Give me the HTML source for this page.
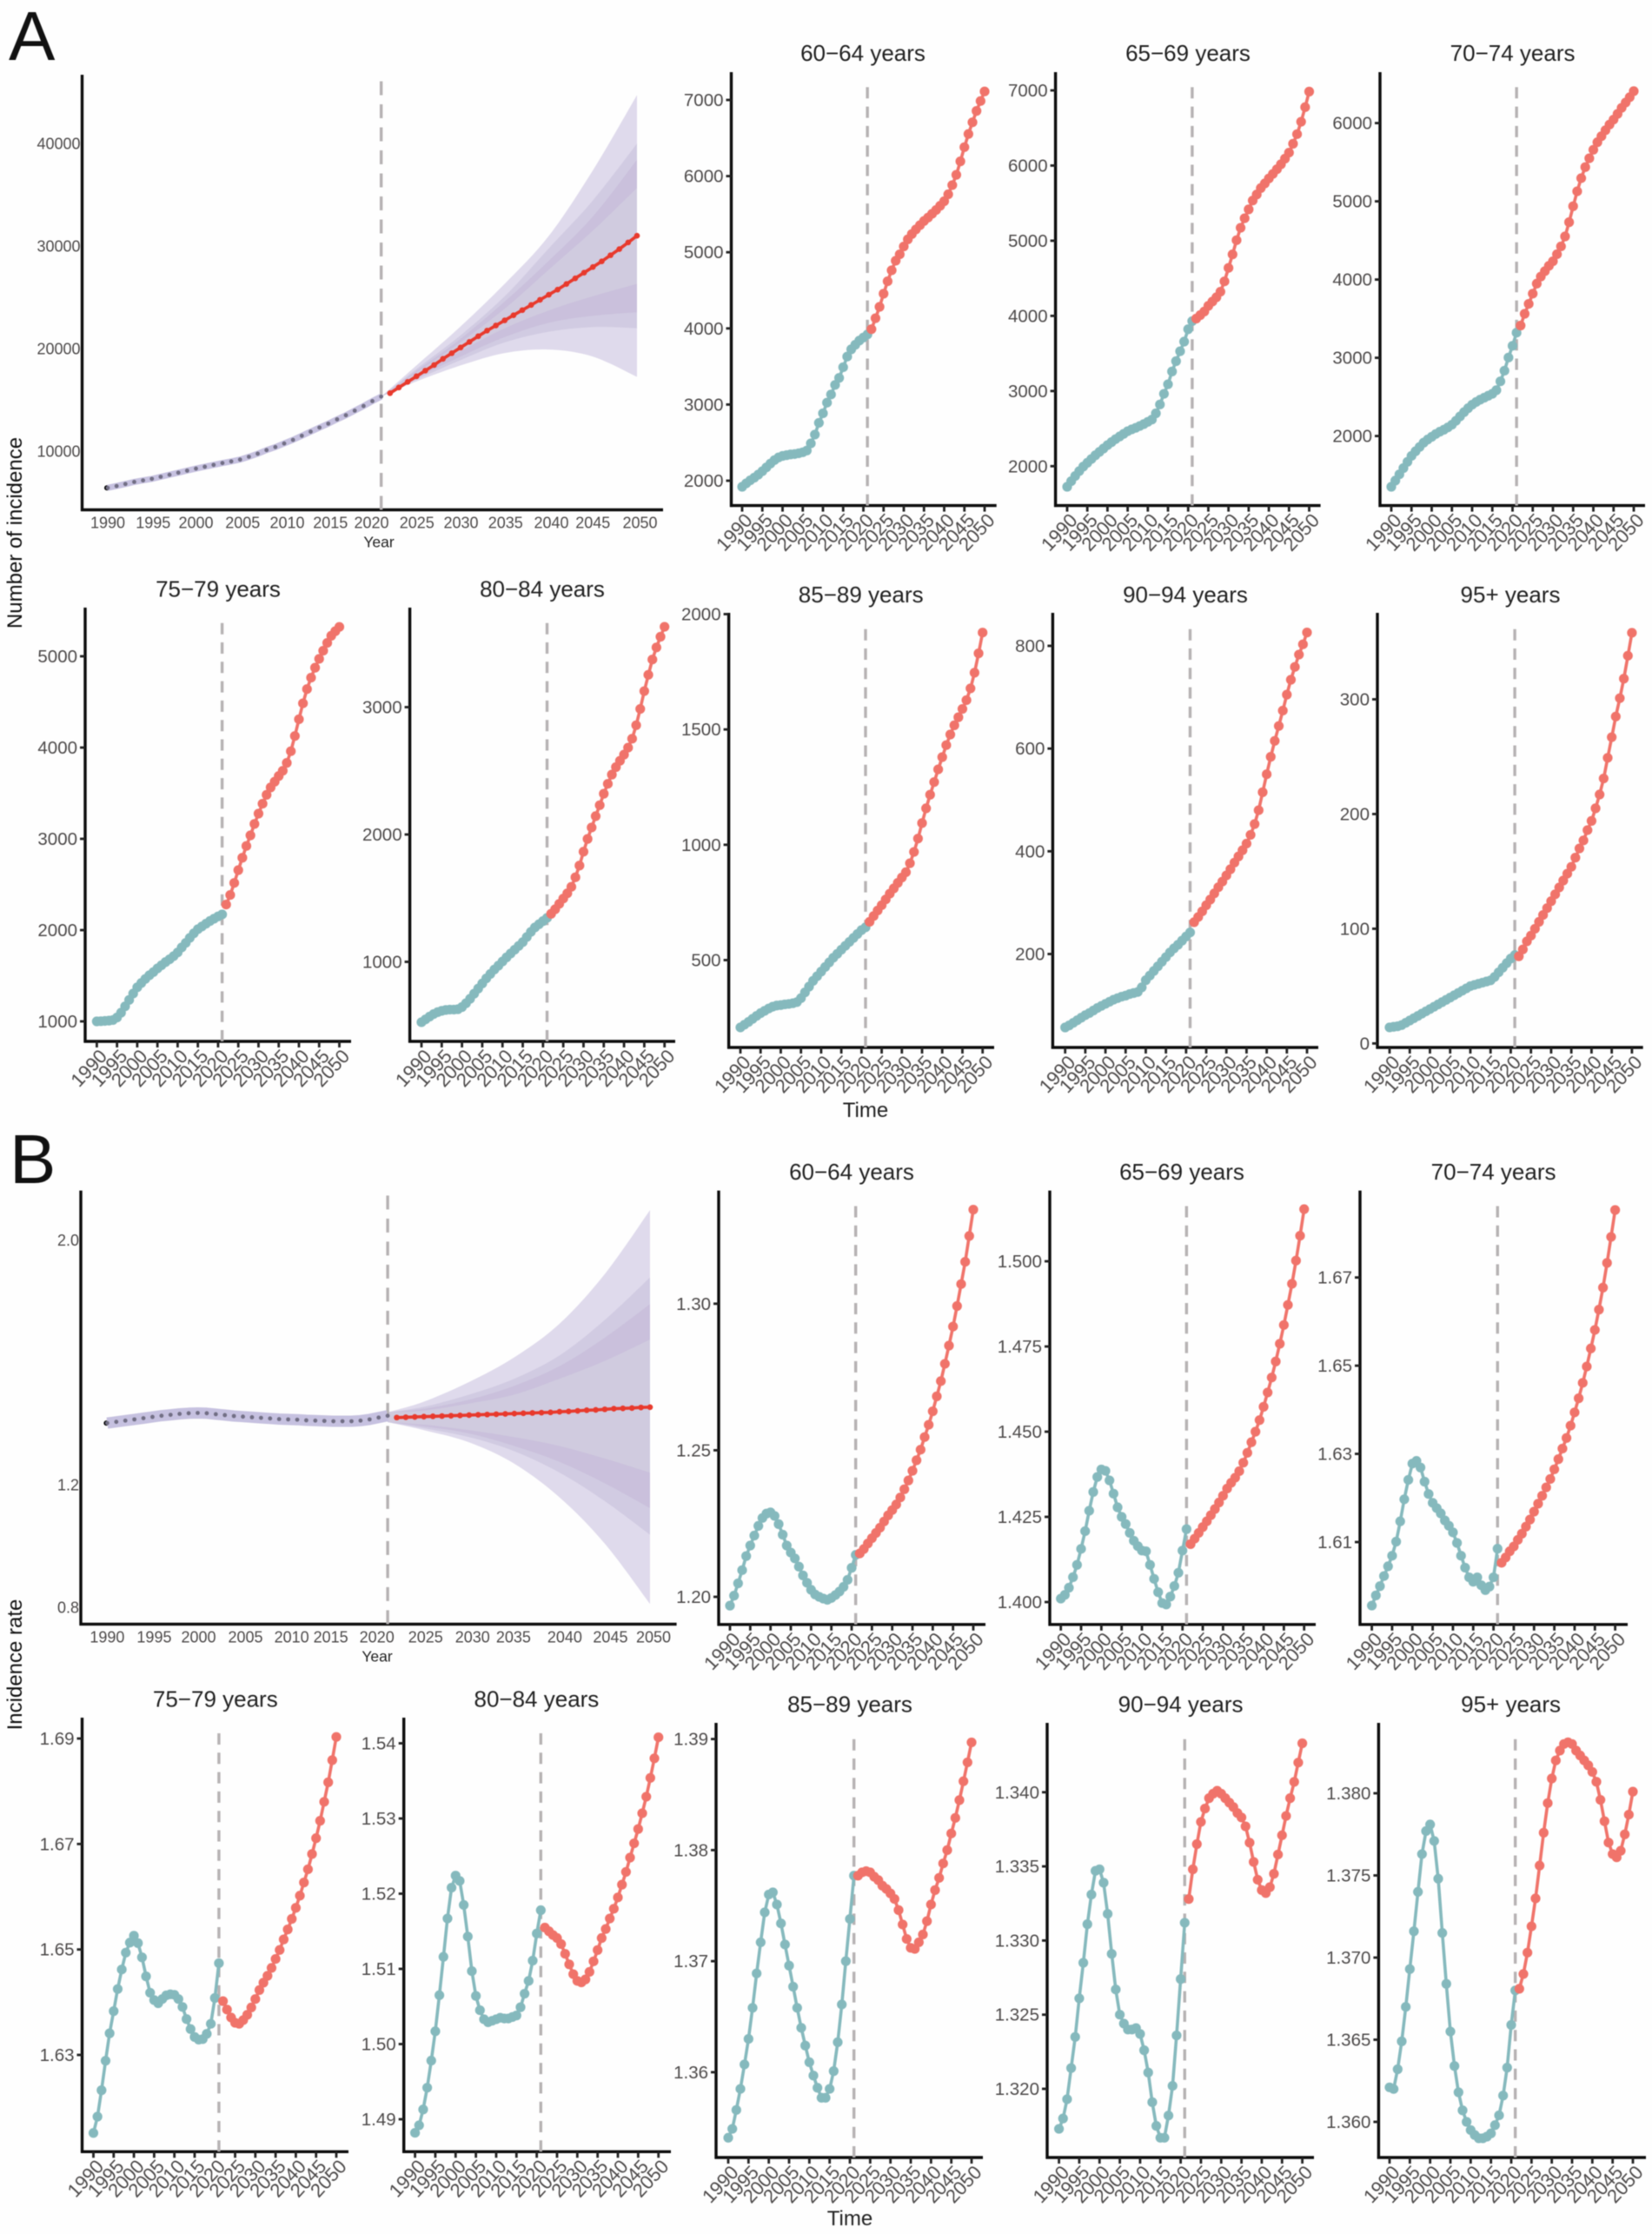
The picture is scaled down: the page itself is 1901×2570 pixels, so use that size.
<!DOCTYPE html>
<html lang="en">
<head>
<meta charset="utf-8">
<title>Incidence projections by age group</title>
<style>
html,body{margin:0;padding:0;background:#fefefe;}
#figure{display:block;width:1901px;height:2570px;font-family:"Liberation Sans",Arial,sans-serif;filter:blur(0.6px);}
</style>
</head>
<body>
<svg id="figure" xmlns="http://www.w3.org/2000/svg" width="1901" height="2570" viewBox="0 0 1901 2570">
<rect x="0" y="0" width="1901" height="2570" fill="#fefefe"/>
<text x="10" y="69" font-size="80" fill="#111">A</text>
<text x="11" y="1361" font-size="80" fill="#111">B</text>
<text transform="translate(25,613) rotate(-90)" text-anchor="middle" font-size="24" fill="#111">Number of incidence</text>
<text transform="translate(25,1915) rotate(-90)" text-anchor="middle" font-size="24" fill="#111">Incidence rate</text>
<text x="996" y="1285" text-anchor="middle" font-size="24" fill="#222">Time</text>
<text x="978" y="2560" text-anchor="middle" font-size="24" fill="#222">Time</text>
</svg>
<script>
// ---------- shared axis data ----------
const tickYears = [1990,1995,2000,2005,2010,2015,2020,2025,2030,2035,2040,2045,2050];
const bandYears = [2021,2025,2030,2035,2040,2045,2050];

// ---------- Panel A, all ages: number of incidence ----------
const mainAHist = [6420,6600,6800,7000,7150,7300,7500,7700,7900,8100,8300,8480,8660,8840,9000,9180,9450,9750,10100,10400,10750,11100,11500,11900,12300,12680,13100,13500,13950,14400,14880,15320];
const mainAProj = [15650,16200,16750,17300,17850,18400,19000,19550,20100,20650,21200,21750,22250,22750,23250,23750,24250,24750,25250,25750,26300,26850,27400,27950,28500,29100,29700,30350,31000];
const mainATicks = [10000,20000,30000,40000];
const mainAOuterHi = [15311,18355,22160,26311,30980,37380,44713];
const mainAOuterLo = [15311,16798,18355,19565,19911,19219,17248];
const mainASecondHi = [15311,18010,21296,25100,29770,34440,39974];
const mainASecondLo = [15311,16972,18874,20603,21641,22091,21987];
const mainAThirdHi = [15311,17836,20949,24581,28559,32883,38417];
const mainAThirdLo = [15311,17145,19220,21122,22507,23198,23544];
const mainACoreHi = [15311,17664,20604,23890,27694,31499,35650];
const mainACoreLo = [15311,17318,19739,21987,23716,25100,26311];

// ---------- Panel B, all ages: incidence rate ----------
const mainBHist = [1.402,1.406,1.410,1.414,1.418,1.422,1.426,1.429,1.432,1.434,1.435,1.434,1.431,1.428,1.425,1.423,1.421,1.419,1.417,1.415,1.414,1.413,1.411,1.410,1.409,1.408,1.408,1.408,1.410,1.414,1.420,1.426];
const mainBProj = [1.420,1.421,1.422,1.423,1.424,1.425,1.426,1.427,1.428,1.429,1.430,1.431,1.432,1.433,1.434,1.435,1.436,1.437,1.439,1.440,1.442,1.444,1.445,1.447,1.449,1.450,1.451,1.453,1.454];
const mainBTicks = [0.8,1.2,2.0];
const mainBOuterHi = [1.437,1.472,1.536,1.617,1.727,1.889,2.098];
const mainBOuterLo = [1.405,1.379,1.339,1.269,1.159,1.008,0.811];
const mainBSecondHi = [1.437,1.455,1.495,1.547,1.623,1.739,1.878];
const mainBSecondLo = [1.405,1.385,1.356,1.310,1.240,1.147,1.037];
const mainBThirdHi = [1.437,1.449,1.478,1.524,1.588,1.681,1.791];
const mainBThirdLo = [1.405,1.391,1.368,1.327,1.275,1.205,1.124];
const mainBCoreHi = [1.437,1.443,1.466,1.495,1.547,1.605,1.675];
const mainBCoreLo = [1.405,1.397,1.379,1.356,1.327,1.286,1.240];

// ---------- Panel A, age groups ----------
const a6064Hist = [1920,1965,2005,2040,2080,2125,2175,2225,2270,2305,2325,2335,2345,2350,2360,2373,2396,2490,2606,2760,2885,3025,3132,3258,3350,3490,3630,3725,3785,3840,3880,3920];
const a6064Proj = [3990,4134,4283,4456,4619,4763,4889,4973,5076,5169,5239,5300,5355,5410,5455,5505,5555,5610,5670,5761,5882,6017,6194,6380,6553,6707,6856,6986,7112];
const a6064Ticks = [2000,3000,4000,5000,6000,7000];
const a6569Hist = [1726,1800,1870,1935,1995,2045,2095,2145,2190,2235,2280,2320,2360,2395,2430,2465,2490,2510,2535,2560,2590,2620,2703,2821,2963,3090,3260,3397,3529,3657,3822,3930];
const a6569Proj = [3964,4010,4058,4133,4190,4247,4322,4459,4638,4818,5007,5172,5299,5417,5535,5615,5700,5762,5828,5889,5951,6017,6092,6172,6290,6418,6583,6777,6984];
const a6569Ticks = [2000,3000,4000,5000,6000,7000];
const a7074Hist = [1351,1430,1510,1590,1670,1746,1805,1860,1915,1955,1990,2025,2055,2080,2110,2145,2195,2250,2305,2355,2400,2435,2465,2490,2515,2540,2586,2699,2835,3003,3153,3321];
const a7074Proj = [3412,3562,3689,3820,3948,4038,4107,4175,4234,4324,4424,4551,4733,4937,5128,5296,5437,5550,5659,5755,5832,5909,5981,6045,6118,6195,6263,6331,6408];
const a7074Ticks = [2000,3000,4000,5000,6000];
const a7579Hist = [1000,1002,1005,1008,1015,1043,1095,1165,1235,1305,1373,1420,1465,1505,1540,1580,1615,1650,1680,1715,1755,1810,1860,1915,1965,2010,2040,2070,2100,2125,2150,2172];
const a7579Proj = [2280,2385,2517,2657,2793,2922,3038,3163,3276,3385,3482,3563,3626,3688,3746,3832,3960,4127,4310,4485,4641,4766,4875,4972,5061,5147,5225,5275,5322];
const a7579Ticks = [1000,2000,3000,4000,5000];
const a8084Hist = [526,548,570,590,605,615,622,625,625,628,645,675,710,750,790,830,870,905,940,970,1003,1035,1065,1095,1125,1155,1195,1235,1270,1295,1320,1345];
const a8084Proj = [1377,1413,1455,1497,1538,1589,1664,1756,1865,1965,2055,2144,2230,2320,2398,2470,2529,2579,2627,2682,2752,2858,2986,3126,3254,3374,3469,3553,3631];
const a8084Ticks = [1000,2000,3000];
const a8589Hist = [208,220,232,245,258,270,280,290,298,303,305,308,310,313,318,335,360,385,410,430,450,470,490,510,527,545,562,579,596,613,630,642];
const a8589Proj = [666,691,715,738,763,788,811,835,858,881,920,969,1027,1094,1158,1217,1272,1327,1380,1432,1478,1518,1553,1589,1627,1678,1746,1830,1920];
const a8589Ticks = [500,1000,1500,2000];
const a9094Hist = [57,61,66,71,76,81,85,90,95,99,103,107,111,114,117,119,122,124,126,135,149,158,167,176,185,194,203,211,218,226,234,242];
const a9094Proj = [262,272,283,295,306,318,330,341,353,365,378,390,402,415,432,453,480,515,550,584,615,644,674,705,734,759,783,803,826];
const a9094Ticks = [200,400,600,800];
const a95Hist = [14,14.5,15,16,18,20,22,24,26,28,30,32,34,36,38,40,42,44,46,48,50,51,52,53,54,55,58,62,66,70,74,77];
const a95Proj = [76,82,89,94,100,106,112,118,124,130,136,142,148,154,162,170,177,186,194,205,217,231,249,267,285,301,318,338,358];
const a95Ticks = [0,100,200,300];

// ---------- Panel B, age groups ----------
const b6064Hist = [1.197,1.2004,1.2046,1.2091,1.2139,1.2175,1.2209,1.2242,1.2269,1.2284,1.2288,1.2276,1.2248,1.2212,1.2175,1.2151,1.2131,1.2103,1.2073,1.2048,1.2024,1.2008,1.2000,1.1994,1.199,1.1996,1.2006,1.2018,1.2034,1.2058,1.2099,1.2143];
const b6064Proj = [1.2148,1.2163,1.2182,1.22,1.2218,1.2236,1.2257,1.2278,1.2296,1.2315,1.2339,1.2367,1.2397,1.243,1.2466,1.2502,1.2545,1.2587,1.2633,1.2684,1.2736,1.2795,1.2857,1.2922,1.2992,1.3067,1.3143,1.3231,1.3321];
const b6064Ticks = [1.20,1.25,1.30];
const b6569Hist = [1.401,1.4021,1.4042,1.4073,1.4109,1.4156,1.4208,1.4268,1.4323,1.4367,1.4389,1.4385,1.4357,1.4318,1.4278,1.425,1.4229,1.4203,1.418,1.4164,1.4151,1.4149,1.4109,1.4068,1.4029,1.3997,1.3993,1.4016,1.4047,1.4086,1.4151,1.4214];
const b6569Proj = [1.417,1.4186,1.4203,1.422,1.4237,1.4255,1.4273,1.4292,1.4312,1.4333,1.435,1.4365,1.4384,1.4409,1.4438,1.4469,1.45,1.4534,1.4573,1.4615,1.4659,1.4706,1.4758,1.4813,1.4872,1.4934,1.5002,1.5075,1.5153];
const b6569Ticks = [1.400,1.425,1.450,1.475,1.500];
const b7074Hist = [1.5956,1.5979,1.6,1.6023,1.6045,1.6069,1.6101,1.6147,1.6197,1.6241,1.6278,1.6284,1.6269,1.6237,1.6209,1.6189,1.6177,1.6165,1.6149,1.6137,1.6122,1.6098,1.6069,1.6042,1.602,1.601,1.602,1.6002,1.5991,1.5999,1.602,1.6085];
const b7074Proj = [1.6053,1.6065,1.6079,1.609,1.6105,1.6119,1.6135,1.6151,1.6169,1.6187,1.6205,1.6224,1.6243,1.6265,1.6288,1.6312,1.6336,1.6364,1.6394,1.6426,1.6461,1.6498,1.6539,1.6581,1.6627,1.6677,1.6733,1.6792,1.6853];
const b7074Ticks = [1.61,1.63,1.65,1.67];
const b7579Hist = [1.6152,1.6183,1.6233,1.6289,1.6341,1.6383,1.6425,1.6462,1.6494,1.6513,1.6526,1.6512,1.6485,1.6449,1.6418,1.6404,1.6398,1.6406,1.6413,1.6415,1.6414,1.6406,1.6391,1.6368,1.6349,1.6334,1.6329,1.633,1.634,1.6359,1.6408,1.6474];
const b7579Proj = [1.6402,1.6386,1.6371,1.6361,1.6359,1.6366,1.6376,1.639,1.6406,1.6423,1.6437,1.645,1.6465,1.6482,1.6499,1.6519,1.6538,1.6558,1.6579,1.6602,1.6627,1.6652,1.6681,1.6711,1.6744,1.678,1.6817,1.6859,1.6903];
const b7579Ticks = [1.63,1.65,1.67,1.69];
const b8084Hist = [1.4882,1.4892,1.4913,1.4942,1.4978,1.5017,1.5065,1.5116,1.5167,1.5208,1.5224,1.5217,1.5185,1.5143,1.5097,1.5064,1.5045,1.5033,1.5029,1.5031,1.5033,1.5035,1.5034,1.5034,1.5036,1.5038,1.5049,1.5067,1.5084,1.5111,1.5147,1.5178];
const b8084Proj = [1.5155,1.515,1.5145,1.5141,1.5133,1.512,1.5106,1.5093,1.5084,1.5082,1.5086,1.5096,1.511,1.5125,1.5141,1.5153,1.5167,1.518,1.5195,1.5212,1.5229,1.5248,1.5267,1.5286,1.5307,1.5329,1.5354,1.538,1.5408];
const b8084Ticks = [1.49,1.50,1.51,1.52,1.53,1.54];
const b8589Hist = [1.3541,1.3549,1.3566,1.3585,1.3607,1.363,1.3658,1.3689,1.3717,1.3744,1.376,1.3762,1.3751,1.3734,1.3715,1.3696,1.3677,1.3658,1.364,1.3624,1.3609,1.3597,1.3586,1.3577,1.3577,1.3585,1.3601,1.3627,1.3661,1.37,1.3738,1.3777];
const b8589Proj = [1.3777,1.378,1.3781,1.378,1.3776,1.3773,1.3768,1.3765,1.3761,1.3756,1.3746,1.3733,1.372,1.3712,1.3711,1.3717,1.3724,1.3736,1.3751,1.3764,1.3775,1.3788,1.38,1.3815,1.3829,1.3845,1.3862,1.3879,1.3897];
const b8589Ticks = [1.36,1.37,1.38,1.39];
const b9094Hist = [1.3173,1.318,1.3193,1.3214,1.3235,1.3261,1.3285,1.3311,1.3331,1.3347,1.3348,1.3339,1.3318,1.3291,1.3267,1.325,1.3244,1.324,1.324,1.3241,1.3237,1.3226,1.3211,1.3191,1.3175,1.3167,1.3167,1.3182,1.3202,1.3236,1.3274,1.3312];
const b9094Proj = [1.3328,1.3348,1.3365,1.338,1.3389,1.3396,1.3399,1.3401,1.3399,1.3396,1.3393,1.339,1.3386,1.3383,1.3377,1.3366,1.3353,1.3341,1.3334,1.3332,1.3336,1.3345,1.3358,1.3371,1.3384,1.3396,1.3407,1.342,1.3433];
const b9094Ticks = [1.320,1.325,1.330,1.335,1.340];
const b95Hist = [1.3621,1.362,1.3632,1.3649,1.367,1.3693,1.3716,1.374,1.3763,1.3777,1.3781,1.3771,1.3748,1.3715,1.3684,1.3655,1.3634,1.3618,1.3607,1.36,1.3595,1.3592,1.359,1.359,1.3591,1.3593,1.3598,1.3604,1.3616,1.3633,1.3659,1.368];
const b95Proj = [1.3681,1.369,1.3703,1.3719,1.3736,1.3756,1.3776,1.3794,1.3809,1.382,1.3826,1.383,1.3831,1.383,1.3826,1.3823,1.382,1.3817,1.3813,1.3807,1.3796,1.3783,1.377,1.3763,1.3761,1.3765,1.3775,1.3787,1.3801];
const b95Ticks = [1.360,1.365,1.370,1.375,1.380];

// ---------- layout (separate from data) ----------
const NS = 'http://www.w3.org/2000/svg';
const root = document.getElementById('figure');
const TEAL = '#85b9bd', CORAL = '#f0736a', DASH = '#b6b2b3', LABEL = '#4d4a4a';

function make(tag, attrs, parent) {
  const el = document.createElementNS(NS, tag);
  for (const k in attrs) el.setAttribute(k, attrs[k]);
  (parent || root).appendChild(el);
  return el;
}
function xScale(box) { return yr => box.x0 + (yr - 1990) / 60 * (box.x1 - box.x0); }
function yScale(ticks, pxLow, pxHigh) {
  const a = ticks[0], b = ticks[ticks.length - 1];
  return v => pxLow + (v - a) / (b - a) * (pxHigh - pxLow);
}
function histYears(arr) { return arr.map((_, i) => 1990 + i); }
function projYears(arr) { return arr.map((_, i) => 2022 + i); }
function line(xs, ys) { return xs.map((x, i) => x.toFixed(1) + ',' + ys[i].toFixed(1)).join(' '); }

function drawAxes(g, id, box, showTicks) {
  const yAxis = make('line', {x1: box.ax, x2: box.ax, y1: box.ty, y2: box.by + 1.5, stroke: '#0c0c0c', 'stroke-width': 3.4}, g);
  
  
  const xAxis = make('line', {x1: box.ax - 1.5, x2: box.rx, y1: box.by, y2: box.by, stroke: '#0c0c0c', 'stroke-width': 3.4}, g);
  
  
  const x = xScale(box);
  const vline = make('line', {x1: x(2021), x2: x(2021), y1: box.by, y2: box.ty + (showTicks ? 12 : 0), stroke: DASH, 'stroke-width': 3.4, 'stroke-dasharray': showTicks ? '13 9.3' : '16 10.5'}, g);
  
  
}

function drawSmall(p) {
  const g = make('g', {});
  
  
  const box = p.box;
  const x = xScale(box);
  const y = yScale(p.ticks, box.px0, box.px1);
  drawAxes(g, p.id, box, true);

  const title = make('text', {x: box.tc, y: box.tm + 9, 'text-anchor': 'middle', 'font-size': 26, fill: '#222'}, g);
  title.textContent = p.title;
  
  

  p.ticks.forEach(t => {
    const mark = make('line', {x1: box.ax - 6, x2: box.ax, y1: y(t), y2: y(t), stroke: '#222', 'stroke-width': 2.8}, g);
    
    
    const lab = make('text', {x: box.ax - 9, y: y(t) + 7, 'text-anchor': 'end', 'font-size': 20.5, fill: LABEL}, g);
    lab.textContent = t.toFixed(p.digits);
    
    
  });
  tickYears.forEach(yr => {
    const mark = make('line', {x1: x(yr), x2: x(yr), y1: box.by, y2: box.by + 7, stroke: '#222', 'stroke-width': 2.8}, g);
    
    
    const lab = make('text', {transform: 'translate(' + (x(yr) + 13).toFixed(1) + ',' + (box.by + 18) + ') rotate(-47)', 'text-anchor': 'end', 'font-size': 22, fill: LABEL}, g);
    lab.textContent = yr;
    
    
  });

  const hx = histYears(p.hist).map(x), hy = p.hist.map(y);
  const hLine = make('polyline', {points: line(hx, hy), fill: 'none', stroke: TEAL, 'stroke-width': 3.6, 'stroke-linejoin': 'round'}, g);
  
  
  hx.forEach((px, i) => {
    const c = make('circle', {cx: px, cy: hy[i], r: 5.6, fill: TEAL}, g);
    
    
  });
  const fx = projYears(p.proj).map(x), fy = p.proj.map(y);
  const fLine = make('polyline', {points: line(fx, fy), fill: 'none', stroke: CORAL, 'stroke-width': 3.6, 'stroke-linejoin': 'round'}, g);
  
  
  fx.forEach((px, i) => {
    const c = make('circle', {cx: px, cy: fy[i], r: 5.6, fill: CORAL}, g);
    
    
  });
}

// Catmull-Rom smoothing through band edge readings
function curve(pts) {
  let d = '';
  for (let i = 0; i < pts.length - 1; i++) {
    const p0 = pts[Math.max(i - 1, 0)], p1 = pts[i], p2 = pts[i + 1], p3 = pts[Math.min(i + 2, pts.length - 1)];
    const c1x = p1[0] + (p2[0] - p0[0]) / 6, c1y = p1[1] + (p2[1] - p0[1]) / 6;
    const c2x = p2[0] - (p3[0] - p1[0]) / 6, c2y = p2[1] - (p3[1] - p1[1]) / 6;
    d += 'C' + c1x.toFixed(1) + ' ' + c1y.toFixed(1) + ' ' + c2x.toFixed(1) + ' ' + c2y.toFixed(1) + ' ' + p2[0].toFixed(1) + ' ' + p2[1].toFixed(1);
  }
  return d;
}

function drawMain(m) {
  const g = make('g', {});
  
  
  const box = m.box;
  const x = xScale(box);
  const y = yScale(m.ticks, box.px0, box.px1);

  m.bands.forEach(b => {
    const up = bandYears.map((yr, i) => [x(yr), y(b.hi[i])]);
    const lo = bandYears.map((yr, i) => [x(yr), y(b.lo[i])]).reverse();
    const d = 'M' + up[0][0].toFixed(1) + ' ' + up[0][1].toFixed(1) + curve(up) + 'L' + lo[0][0].toFixed(1) + ' ' + lo[0][1].toFixed(1) + curve(lo) + 'Z';
    const band = make('path', {d: d, fill: b.color}, g);
    
    
  });
  drawAxes(g, m.id, box, false);

  m.ticks.forEach(t => {
    const lab = make('text', {x: box.ax - 2, y: y(t) + 6.5, 'text-anchor': 'end', 'font-size': 18, fill: LABEL}, g);
    lab.textContent = t.toFixed(m.digits);
    
    
  });
  tickYears.forEach((yr, i) => {
    const lab = make('text', {x: x(yr) + box.nudge[i], y: box.by + 21, 'text-anchor': 'middle', 'font-size': 18, fill: LABEL}, g);
    lab.textContent = yr;
    
    
  });
  const xt = make('text', {x: box.tc, y: box.by + 43, 'text-anchor': 'middle', 'font-size': 17.5, fill: '#222'}, g);
  xt.textContent = 'Year';
  
  

  const hx = histYears(m.hist).map(x), hy = m.hist.map(y);
  const dot0 = make('circle', {cx: hx[0] - 1, cy: hy[0], r: 3, fill: '#000'}, g);
  
  
  const ribbon = make('polyline', {points: line(hx, hy), fill: 'none', stroke: '#c6c1e0', 'stroke-width': m.ribbon, 'stroke-linejoin': 'round'}, g);
  
  
  hx.forEach((px, i) => {
    const c = make('circle', {cx: px, cy: hy[i], r: 2.4, fill: '#716e84'}, g);
    
    
  });
  const fx = projYears(m.proj).map(x), fy = m.proj.map(y);
  const fLine = make('polyline', {points: line(fx, fy), fill: 'none', stroke: '#e8392c', 'stroke-width': 3.6, 'stroke-linejoin': 'round'}, g);
  
  
  fx.forEach((px, i) => {
    const c = make('circle', {cx: px, cy: fy[i], r: 3.3, fill: '#e8392c'}, g);
    
    
  });
}

const BAND_OUTER = '#dfdaec', BAND_SECOND = '#d1cbe2', BAND_THIRD = '#cac0dc', BAND_CORE = '#d0cbdf';

drawMain({id: 'a-all-ages', hist: mainAHist, proj: mainAProj, ticks: mainATicks, digits: 0, ribbon: 7,
  box: {ax: 94.5, rx: 763, ty: 86, by: 586.5, x0: 124, x1: 733, px0: 519, px1: 165, tc: 436,
        nudge: [0,1.5,0,3,3.5,2.5,-1,0.5,0.5,1,3,0,3.5]},
  bands: [
    {name: 'outer', hi: mainAOuterHi, lo: mainAOuterLo, color: BAND_OUTER},
    {name: 'second', hi: mainASecondHi, lo: mainASecondLo, color: BAND_SECOND},
    {name: 'third', hi: mainAThirdHi, lo: mainAThirdLo, color: BAND_THIRD},
    {name: 'core', hi: mainACoreHi, lo: mainACoreLo, color: BAND_CORE}
  ]});
drawMain({id: 'b-all-ages', hist: mainBHist, proj: mainBProj, ticks: mainBTicks, digits: 1, ribbon: 13,
  box: {ax: 93, rx: 778.6, ty: 1369.6, by: 1868.4, x0: 123.4, x1: 748, px0: 1849, px1: 1426.6, tc: 434,
        nudge: [0,2,1,3,4,-3,-2,2,4,-1,6,6.5,4]},
  bands: [
    {name: 'outer', hi: mainBOuterHi, lo: mainBOuterLo, color: BAND_OUTER},
    {name: 'second', hi: mainBSecondHi, lo: mainBSecondLo, color: BAND_SECOND},
    {name: 'third', hi: mainBThirdHi, lo: mainBThirdLo, color: BAND_THIRD},
    {name: 'core', hi: mainBCoreHi, lo: mainBCoreLo, color: BAND_CORE}
  ]});

const smallPanels = [
  {id: 'a-60-64', title: '60\u221264 years', hist: a6064Hist, proj: a6064Proj, ticks: a6064Ticks, digits: 0,
   box: {ax: 841.5, rx: 1146.7, ty: 83, by: 581.6, x0: 854, x1: 1133, px0: 553, px1: 115, tc: 993, tm: 61}},
  {id: 'a-65-69', title: '65\u221269 years', hist: a6569Hist, proj: a6569Proj, ticks: a6569Ticks, digits: 0,
   box: {ax: 1214.6, rx: 1519.6, ty: 83, by: 581.6, x0: 1228, x1: 1506.5, px0: 536.3, px1: 104, tc: 1367, tm: 61}},
  {id: 'a-70-74', title: '70\u221274 years', hist: a7074Hist, proj: a7074Proj, ticks: a7074Ticks, digits: 0,
   box: {ax: 1588, rx: 1893, ty: 83, by: 581.6, x0: 1601, x1: 1880, px0: 501.6, px1: 141.6, tc: 1740.6, tm: 61}},
  {id: 'a-75-79', title: '75\u221279 years', hist: a7579Hist, proj: a7579Proj, ticks: a7579Ticks, digits: 0,
   box: {ax: 98, rx: 404, ty: 699, by: 1198, x0: 111.4, x1: 390.5, px0: 1175, px1: 755, tc: 251, tm: 677.5}},
  {id: 'a-80-84', title: '80\u221284 years', hist: a8084Hist, proj: a8084Proj, ticks: a8084Ticks, digits: 0,
   box: {ax: 471.6, rx: 777, ty: 699, by: 1198, x0: 485, x1: 764.7, px0: 1106.5, px1: 813.5, tc: 624, tm: 677.5}},
  {id: 'a-85-89', title: '85\u221289 years', hist: a8589Hist, proj: a8589Proj, ticks: a8589Ticks, digits: 0,
   box: {ax: 838.6, rx: 1144, ty: 705, by: 1205, x0: 852, x1: 1130.7, px0: 1104.5, px1: 706.5, tc: 990.7, tm: 684}},
  {id: 'a-90-94', title: '90\u221294 years', hist: a9094Hist, proj: a9094Proj, ticks: a9094Ticks, digits: 0,
   box: {ax: 1211.4, rx: 1517, ty: 705, by: 1205, x0: 1225.7, x1: 1504, px0: 1097.5, px1: 743, tc: 1364, tm: 684}},
  {id: 'a-95-plus', title: '95+ years', hist: a95Hist, proj: a95Proj, ticks: a95Ticks, digits: 0,
   box: {ax: 1585, rx: 1890.7, ty: 705, by: 1205, x0: 1599, x1: 1877.9, px0: 1200.4, px1: 804.5, tc: 1738, tm: 684}},
  {id: 'b-60-64', title: '60\u221264 years', hist: b6064Hist, proj: b6064Proj, ticks: b6064Ticks, digits: 2,
   box: {ax: 827, rx: 1134, ty: 1369.6, by: 1868.8, x0: 840, x1: 1120, px0: 1837, px1: 1499.8, tc: 980, tm: 1348}},
  {id: 'b-65-69', title: '65\u221269 years', hist: b6569Hist, proj: b6569Proj, ticks: b6569Ticks, digits: 3,
   box: {ax: 1208, rx: 1514, ty: 1369.6, by: 1868.8, x0: 1220.7, x1: 1500.7, px0: 1843, px1: 1451, tc: 1360, tm: 1348}},
  {id: 'b-70-74', title: '70\u221274 years', hist: b7074Hist, proj: b7074Proj, ticks: b7074Ticks, digits: 2,
   box: {ax: 1565, rx: 1873, ty: 1369.6, by: 1868.8, x0: 1578.6, x1: 1858.6, px0: 1774, px1: 1469.6, tc: 1718.6, tm: 1348}},
  {id: 'b-75-79', title: '75\u221279 years', hist: b7579Hist, proj: b7579Proj, ticks: b7579Ticks, digits: 2,
   box: {ax: 94.5, rx: 401, ty: 1976, by: 2475.3, x0: 107.5, x1: 387, px0: 2364, px1: 2000, tc: 247.8, tm: 1954.5}},
  {id: 'b-80-84', title: '80\u221284 years', hist: b8084Hist, proj: b8084Proj, ticks: b8084Ticks, digits: 2,
   box: {ax: 464.7, rx: 772, ty: 1976, by: 2475.3, x0: 477.6, x1: 757.7, px0: 2438, px1: 2005.5, tc: 617.4, tm: 1954.5}},
  {id: 'b-85-89', title: '85\u221289 years', hist: b8589Hist, proj: b8589Proj, ticks: b8589Ticks, digits: 2,
   box: {ax: 824, rx: 1131, ty: 1982, by: 2482, x0: 838, x1: 1118, px0: 2383.9, px1: 2000.6, tc: 978, tm: 1960.6}},
  {id: 'b-90-94', title: '90\u221294 years', hist: b9094Hist, proj: b9094Proj, ticks: b9094Ticks, digits: 3,
   box: {ax: 1205, rx: 1512, ty: 1982, by: 2482, x0: 1218.6, x1: 1498.6, px0: 2403, px1: 2061.8, tc: 1358.6, tm: 1960.6}},
  {id: 'b-95-plus', title: '95+ years', hist: b95Hist, proj: b95Proj, ticks: b95Ticks, digits: 3,
   box: {ax: 1586.4, rx: 1894, ty: 1982, by: 2482, x0: 1599, x1: 1879, px0: 2441, px1: 2063, tc: 1738.6, tm: 1960.6}}
];
smallPanels.forEach(drawSmall);
</script>
</body>
</html>
